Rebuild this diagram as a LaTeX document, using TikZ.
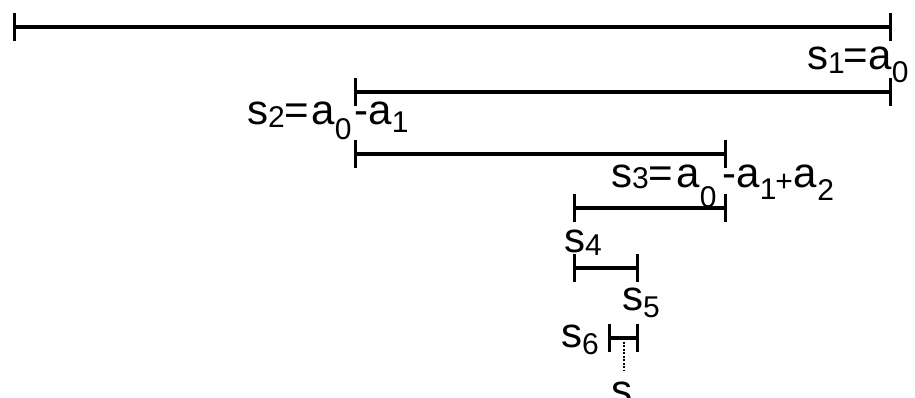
\documentclass[tikz,border=0pt]{standalone}
\usepackage{fontspec}
\setmainfont{Liberation Sans}
\usetikzlibrary{arrows.meta}
\newcommand\lowsub[2]{\raisebox{-#1pt}{\fontsize{30}{32}\selectfont #2}}
\tikzset{
  seg/.style={line width=3.1pt,{Bar[width=28pt,line width=3.1pt]}-{Bar[width=28pt,line width=3.1pt]}},
  dotseg/.style={line width=2pt,dash pattern=on 2pt off 1.5pt},
  lbl/.style={anchor=base west,inner sep=0pt,font=\fontsize{42}{48}\selectfont}
}
\begin{document}
\begin{tikzpicture}[x=1pt,y=-1pt]
\useasboundingbox[clip] (0,0) rectangle (915,398);
\fill[white] (0,0) rectangle (915,398);
% endpoints
\coordinate (a1) at (13,27);  \coordinate (b1) at (892,27);
\coordinate (a2) at (354,92); \coordinate (b2) at (892,92);
\coordinate (a3) at (354,154);\coordinate (b3) at (727,154);
\coordinate (a4) at (573,208);\coordinate (b4) at (727,208);
\coordinate (a5) at (573,268);\coordinate (b5) at (639,268);
\coordinate (a6) at (608,338);\coordinate (b6) at (639,338);
\coordinate (m6) at (623.5,338);\coordinate (e6) at (623.5,371);
% segments
\draw[seg] (a1) -- (b1);
\draw[seg] (a2) -- (b2);
\draw[seg] (a3) -- (b3);
\draw[seg] (a4) -- (b4);
\draw[seg] (a5) -- (b5);
\draw[seg] (a6) -- (b6);
\draw[dotseg] (m6) -- (e6);
% labels
\node[lbl] (l1) at (807,70) {s\lowsub{4}{1}\hspace{-1pt}=a\lowsub{13}{0}};
\node[lbl] (l2) at (247,125) {s\lowsub{3}{2}=\hspace{2pt}a\lowsub{15}{0}\hspace{3pt}-a\lowsub{8}{1}};
\node[lbl] (l3) at (611,188) {s\lowsub{1}{3}=\hspace{3pt}a\lowsub{20}{0}\hspace{6pt}-a\lowsub{12}{1}\hspace{-1pt}\lowsub{4}{+}\hspace{0pt}a\hspace{1pt}\lowsub{13}{2}};
\node[lbl] (l4) at (564,252) {s\lowsub{3}{4}};
\node[lbl] (l5) at (622,310) {s\lowsub{7}{5}};
\node[lbl] (l6) at (561,347) {s\lowsub{7}{6}};
\node[lbl] (l7) at (611,404) {s};
\end{tikzpicture}
\end{document}
